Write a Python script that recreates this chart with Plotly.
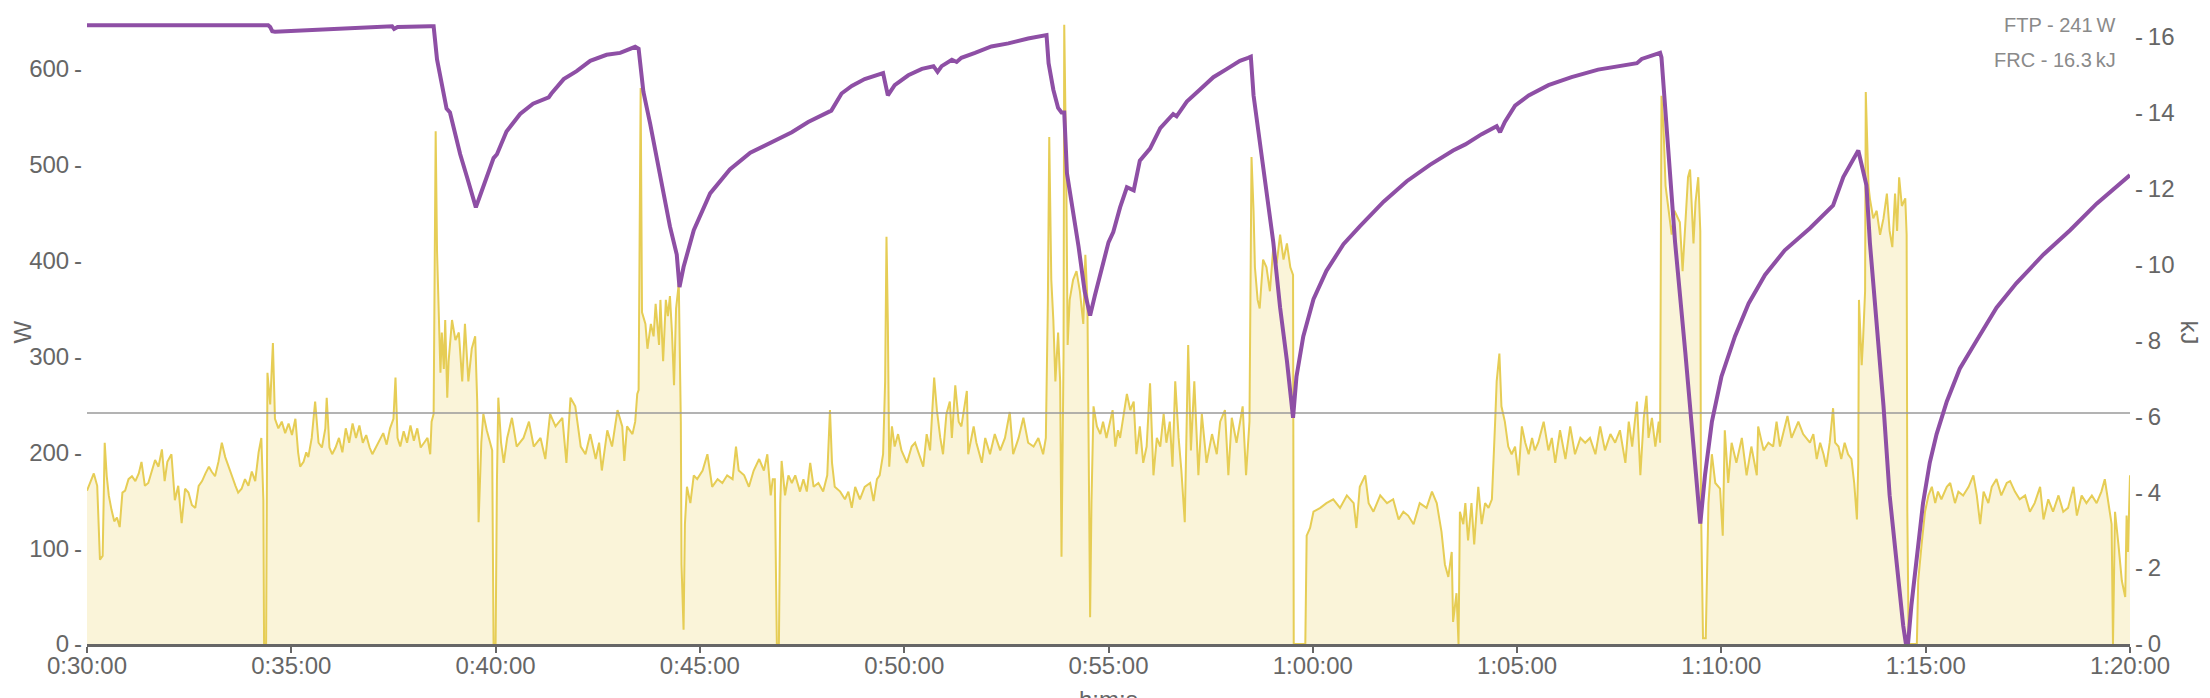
import plotly.graph_objects as go

# ---- data (seconds of elapsed time, watts) ----
P_T = [1800,1805,1810,1815,1819,1823,1826,1829,1832,1836,1840,1844,1848,1852,1856,1861,1866,1871,1876,1880,
       1885,1890,1895,1900,1905,1910,1914,1918,1924,1929,1934,1939,1944,1949,1954,1959,1964,1969,1974,1979,
       1983,1988,1993,1998,2003,2008,2013,2018,2022,2027,2032,2037,2042,2047,2052,2056,2059,2060,2063,2065,
       2069,2073,2076,2081,2086,2091,2096,2101,2106,2110,2113,2118,2122,2125,2130,2135,2140,2145,2150,2152,
       2156,2160,2165,2170,2175,2180,2185,2190,2195,2200,2205,2210,2215,2219,2225,2230,2235,2240,2245,2250,
       2253,2256,2260,2265,2270,2275,2280,2285,2290,2295,2300,
       2304,2306,2309,2312,2314,2316,2319,2321,2324,2326,2329,2331,2336,2341,2346,2351,2355,2360,2365,2370,
       2373,2375,2379,2382,2387,2392,2395,2397,2400,2402,2404,2408,2412,2417,2424,2431,2441,2449,2456,2466,
       2473,2480,2488,2498,2504,2510,2517,2525,2532,2539,2547,2552,2556,2564,2571,2579,2586,2589,2593,2601,
       2605,2608,2610,2613,2615,2620,2623,2628,2632,2635,2640,2642,2646,2650,2653,2656,2659,2662,2665,2669,
       2672,2673,2676,2678,2681,2686,2691,2696,2704,2711,2718,2726,2733,2740,2748,2753,2757,2765,2772,2779,
       2787,2794,2799,2804,2807,
       2810,2813,2816,2818,2820,2825,2830,2835,2840,2847,2852,2857,2862,2867,2874,2881,2887,2891,2894,2898,
       2906,2913,2918,2923,2928,2935,2942,2950,2955,2960,2964,2969,2972,2974,2976,2978,2982,2986,2991,2996,
       3004,3011,3016,3021,3028,3033,3038,3044,3048,3053,3057,3062,3067,3070,3075,3080,3084,3092,3094,3102,
       3106,3114,3119,3126,3133,3141,3148,3155,3160,3168,3175,3182,3190,3197,3204,3208,3211,3213,3216,3219,
       3222,3226,3229,3231,3234,3235,3238,3240,3243,3248,3253,3258,3263,3266,3269,3273,3275,3278,3283,3288,
       3292,3297,3302,3306,3310,3314,
       3317,3322,3327,3332,3337,3341,3346,3351,3356,3361,3366,3371,3376,3381,3385,3390,3394,3398,3403,3407,
       3412,3417,3421,3426,3432,3437,3444,3452,3459,3464,3471,3476,3481,3488,3493,3497,3502,3507,3510,3513,
       3515,3519,3522,3527,3532,3537,3542,3547,3552,3557,3562,3567,3571,3572,3589,3591,3596,3601,3611,3620,
       3630,3640,3650,3660,3664,3669,3677,3682,3689,3699,3709,3718,3726,3733,3740,3748,3757,3767,3775,3782,
       3789,3794,3799,3804,3806,3811,3814,3816,3821,
       3824,3828,3833,3837,3843,3848,3853,3858,3863,3868,3870,3874,3877,3882,3887,3892,3897,3902,3907,3912,
       3917,3922,3926,3931,3939,3946,3951,3956,3963,3971,3978,3985,3993,4000,4007,4015,4022,4029,4037,4044,
       4051,4059,4064,4069,4076,4081,4086,4090,4093,4098,4103,4108,4110,4112,4115,4118,4122,4127,4131,4134,
       4139,4143,4147,4151,4154,4156,4159,4162,4166,4169,4170,4173,4177,4181,4186,4191,4198,4202,4205,4210,
       4215,4222,4230,4237,4244,4252,4254,4262,4269,4276,4281,4286,4297,4303,4313,4320,
       4330,4335,4340,4345,4350,4354,4359,4364,4367,4372,4376,4381,4386,4391,4395,4399,4401,4402,4406,4408,
       4411,4412,4416,4418,4423,4428,4433,4438,4443,4447,4451,4455,4458,4461,4465,4470,4472,4473,4475,4487,
       4489,4494,4499,4504,4509,4514,4518,4523,4531,4536,4543,4548,4555,4563,4570,4575,4580,4585,4592,4597,
       4604,4611,4619,4624,4631,4638,4646,4653,4660,4668,4673,4680,4687,4695,4702,4709,4717,4722,4729,4736,
       4744,4751,4758,4763,4768,4773,4775,4778,4783,4788,4793,4795,4797,4800]

P_W = [160,170,178,165,88,92,210,175,155,140,128,132,122,158,160,172,175,170,178,190,
       165,168,180,192,185,203,170,190,198,150,165,126,162,158,145,142,165,170,178,185,
       180,175,190,210,195,186,175,165,158,162,172,165,180,170,200,215,150,0,0,283,
       250,314,235,225,232,220,230,218,235,200,185,190,200,195,215,253,210,205,225,257,
       205,198,205,215,200,225,210,230,215,228,210,218,205,198,206,212,220,208,225,235,
       278,215,206,222,210,228,212,225,205,210,215,
       198,232,240,535,410,368,283,325,287,338,257,295,338,317,325,274,334,274,308,321,
       253,127,210,240,223,210,202,0,0,172,257,210,189,215,236,206,215,232,206,215,
       193,240,227,236,189,257,248,206,198,219,193,210,181,223,206,244,227,191,227,219,
       232,261,265,580,346,334,308,334,321,355,312,359,295,359,342,363,325,270,350,376,
       232,83,15,125,164,147,176,172,181,198,164,172,168,176,172,206,181,176,164,181,
       193,181,198,155,172,
       172,0,0,147,191,155,176,168,176,159,172,159,189,164,168,159,176,244,189,164,
       159,151,159,142,164,151,164,168,149,172,176,198,274,425,334,185,227,206,219,202,
       189,206,210,200,185,219,202,278,244,215,198,240,253,215,270,232,227,264,198,227,
       210,189,215,198,219,202,215,242,198,215,236,210,206,215,198,215,359,529,380,338,
       274,325,274,91,300,646,487,312,359,380,389,368,334,406,359,28,147,248,227,219,
       232,215,232,244,206,223,
       215,240,261,244,253,198,227,189,206,272,176,215,206,240,210,232,185,274,215,181,
       127,312,202,274,176,240,189,219,198,232,244,176,236,210,232,248,176,232,508,452,
       393,359,350,401,393,368,414,397,427,401,418,393,385,0,0,113,121,138,142,147,
       151,142,155,147,121,164,176,147,138,155,147,151,130,138,134,125,147,142,159,147,
       117,83,70,96,23,53,0,138,125,
       147,108,147,104,164,125,147,142,151,236,274,303,248,232,206,198,206,176,227,210,
       198,215,202,210,232,202,215,189,223,193,227,198,215,210,215,198,227,202,219,210,
       223,189,232,206,253,176,236,259,215,236,206,232,210,572,538,478,457,427,452,448,
       440,389,444,487,495,461,418,461,487,431,147,6,6,147,198,168,162,113,223,168,
       210,189,215,176,206,176,227,202,210,206,232,206,238,215,232,219,
       210,219,193,210,198,185,210,246,210,206,193,210,198,193,168,130,189,359,291,317,
       368,576,478,465,444,452,427,444,470,431,414,470,431,487,457,465,427,138,0,0,
       66,104,138,155,164,147,159,151,164,168,147,159,155,164,176,155,125,159,147,164,
       172,155,168,170,159,151,155,138,147,164,130,151,138,155,138,142,164,134,155,147,
       155,147,159,172,147,125,0,138,104,66,49,134,96,176]

# W' balance (kJ)
K_T = [1800,2066,2069,2072,2076,2100,2140,2189,2248,2251,2256,2304,2309,2314,2319,2328,2333,2348,2358,2371,
       2377,2397,2402,2416,2436,2455,2478,2482,2500,2519,2539,2563,2583,2605,2610,2617,2627,2641,2656,2666,
       2670,2676,2691,2715,2744,2774,2810,2835,2859,2889,2893,2908,2923,2942,2969,2976,2986,3006,3026,3043,
       3049,3055,3070,3077,3084,3104,3128,3153,3182,3209,3212,3219,3226,3231,3235,3239,3246,3256,3265,3273,
       3280,3290,3300,3307,3317,3327,3337,3346,3361,3376,3395,3400,3415,3434,3454,3474,3493,3505,3509,3513,
       3523,3532,3542,3552,3562,3571,3576,3586,3601,3620,3645,3669,3704,3738,3772,3806,3824,3848,3870,3875,
       3882,3897,3917,3946,3980,4019,4049,4076,4083,4110,4112,4122,4132,4147,4161,4169,4176,4186,4200,4220,
       4240,4264,4293,4330,4364,4379,4401,4408,4413,4418,4428,4438,4447,4457,4467,4471,4474,4479,4487,4496,
       4506,4516,4531,4550,4575,4604,4633,4673,4712,4751,4800]
K_V = [16.3,16.3,16.25,16.14,16.13,16.15,16.2,16.22,16.27,16.2,16.25,16.27,16.27,15.4,14.9,14.1,14.0,12.9,12.3,11.5,
       11.8,12.8,12.9,13.5,13.96,14.23,14.4,14.5,14.88,15.09,15.36,15.52,15.57,15.73,15.68,14.55,13.7,12.4,11.0,10.26,
       9.4,9.93,10.9,11.87,12.5,12.94,13.27,13.48,13.75,14.02,14.05,14.5,14.7,14.88,15.04,14.45,14.72,14.98,15.15,15.22,
       15.07,15.22,15.39,15.33,15.44,15.57,15.74,15.82,15.95,16.04,15.3,14.6,14.12,14.0,14.0,12.4,11.65,10.47,9.29,8.65,
       9.18,9.93,10.58,10.85,11.5,12.03,11.95,12.73,13.05,13.59,13.96,13.9,14.29,14.6,14.93,15.15,15.36,15.44,15.47,14.45,
       13.05,11.87,10.58,8.86,7.46,5.96,7.04,8.1,9.08,9.83,10.53,11.0,11.65,12.19,12.62,13.0,13.16,13.43,13.64,13.48,
       13.75,14.18,14.45,14.72,14.93,15.13,15.23,15.3,15.41,15.57,15.45,12.84,10.58,7.68,4.78,3.17,4.46,5.85,7.04,8.11,
       8.97,9.72,10.37,10.95,11.55,12.3,13.0,12.52,12.08,10.58,8.54,6.28,3.92,2.09,0.48,0.0,0.0,1.02,2.3,3.7,
       4.78,5.53,6.39,7.25,8.0,8.86,9.5,10.26,10.9,11.6,12.35]

FTP_W = 241
FRC_KJ = 16.3
X_TICKS = [1800, 2100, 2400, 2700, 3000, 3300, 3600, 3900, 4200, 4500, 4800]
X_LABELS = ["0:30:00", "0:35:00", "0:40:00", "0:45:00", "0:50:00", "0:55:00",
            "1:00:00", "1:05:00", "1:10:00", "1:15:00", "1:20:00"]
W_TICKS = [0, 100, 200, 300, 400, 500, 600]
KJ_TICKS = [0, 2, 4, 6, 8, 10, 12, 14, 16]

FONT = "Liberation Sans, Arial, sans-serif"
TICKC = "#666666"
FS = 24
TS = "\u2009"  # thin space

# figure is offset 8px by the page body margin, so it is sized 2202x690
W_FIG, H_FIG = 2202, 690
ML, MR, MT, MB = 79, 80, 13, 54
PW = W_FIG - ML - MR
PH = H_FIG - MT - MB


def px_x(x):  # figure pixel -> paper x
    return (x - ML) / PW


def px_y(y):  # figure pixel -> paper y
    return (H_FIG - MB - y) / PH


fig = go.Figure()
fig.add_trace(go.Scatter(x=P_T, y=P_W, mode="lines",
                         line=dict(color="#e6cd55", width=2),
                         fill="tozeroy", fillcolor="rgba(240,222,140,0.33)",
                         hoverinfo="skip", yaxis="y"))
fig.add_trace(go.Scatter(x=[X_TICKS[0], X_TICKS[-1]], y=[FTP_W, FTP_W], mode="lines",
                         line=dict(color="#9a9a9a", width=1.5), hoverinfo="skip", yaxis="y"))
fig.add_trace(go.Scatter(x=K_T, y=K_V, mode="lines",
                         line=dict(color="#8e4fa5", width=4),
                         hoverinfo="skip", yaxis="y2"))

fig.update_layout(
    width=W_FIG, height=H_FIG,
    margin=dict(l=ML, r=MR, t=MT, b=MB),
    paper_bgcolor="white", plot_bgcolor="white",
    showlegend=False,
    font=dict(family=FONT, size=FS, color=TICKC),
    xaxis=dict(range=[X_TICKS[0], X_TICKS[-1]], tickmode="array", tickvals=X_TICKS, ticktext=X_LABELS,
               showgrid=False, zeroline=False, showline=True, linecolor="#666666", linewidth=3,
               ticks="outside", ticklen=6, tickwidth=1.5, tickcolor=TICKC, ticklabelstandoff=-8,
               tickfont=dict(size=FS, color=TICKC, family=FONT)),
    yaxis=dict(range=[0, 650], tickmode="array", tickvals=W_TICKS,
               ticktext=[f"{v}{TS}-" for v in W_TICKS],
               showgrid=False, zeroline=False, showline=False, ticks="", ticklabelstandoff=4,
               tickfont=dict(size=FS, color=TICKC, family=FONT)),
    yaxis2=dict(range=[0, 16.41], tickmode="array", tickvals=KJ_TICKS,
                ticktext=[f"-{TS}{v}" for v in KJ_TICKS], overlaying="y", side="right",
                showgrid=False, zeroline=False, showline=False, ticks="", ticklabelstandoff=4,
                tickfont=dict(size=FS, color=TICKC, family=FONT)),
)

fig.add_annotation(xref="paper", yref="paper", x=1, y=px_y(17), xshift=-12, xanchor="right", yanchor="middle",
                   text=f"FTP - {FTP_W}{TS}W", showarrow=False, font=dict(size=20, color="#8a8a8a", family=FONT))
fig.add_annotation(xref="paper", yref="paper", x=1, y=px_y(52), xshift=-12, xanchor="right", yanchor="middle",
                   text=f"FRC - {FRC_KJ}{TS}kJ", showarrow=False, font=dict(size=20, color="#8a8a8a", family=FONT))
fig.add_annotation(xref="paper", yref="paper", x=px_x(14), y=0.5, xanchor="center", yanchor="middle",
                   text="W", textangle=-90, showarrow=False, font=dict(size=FS, color=TICKC, family=FONT))
fig.add_annotation(xref="paper", yref="paper", x=px_x(2181), y=0.5, xanchor="center", yanchor="middle",
                   text="kJ", textangle=90, showarrow=False, font=dict(size=FS, color=TICKC, family=FONT))
fig.add_annotation(xref="paper", yref="paper", x=0.5, y=px_y(676), xanchor="center", yanchor="top",
                   text="h:m:s", showarrow=False, font=dict(size=FS, color=TICKC, family=FONT))

fig.write_html("out.html")
